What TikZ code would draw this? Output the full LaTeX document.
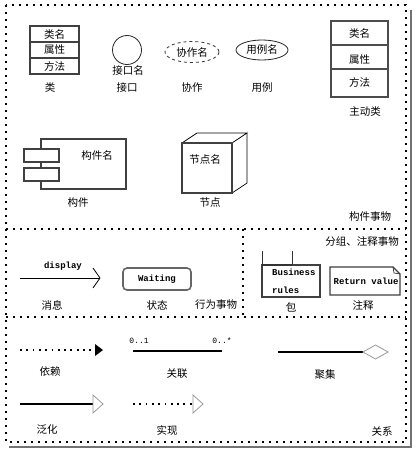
\documentclass[tikz,border=0pt]{standalone}
\usepackage{fontspec}
\setmonofont{Liberation Mono}
\newfontfamily\cjk{Noto Sans CJK SC}
\usetikzlibrary{calc}
\tikzset{
	frame/.style={line width=2pt, dash pattern=on 2pt off 5pt},
	box/.style={draw=black!75, line width=1.2pt},
	thickbox/.style={draw=black!70, line width=2pt},
	lbl/.style={font=\cjk\fontsize{10.5}{12}\selectfont, inner sep=0pt},
	mono/.style={font=\ttfamily\bfseries\fontsize{9}{10}\selectfont, inner sep=0pt},
	dotline/.style={line width=1.8pt, dash pattern=on 1.8pt off 4.5pt},
	tipgray/.style={draw=black!40, fill=white, line width=0.8pt},
}

\begin{document}
\begin{tikzpicture}[x=1pt, y=-1pt]
			%%%%% START %%%%%
			\useasboundingbox[fill=white] (0, 0) rectangle (417, 452);
			
			% frame and separators
			\draw[black!55, line width=2pt] (411, 10) -- (411, 447) -- (9, 447);
			\draw[frame] (6, 5) rectangle (406, 442);
			\draw[frame] (6, 229) -- (406, 229);
			\draw[frame] (6, 317) -- (406, 317);
			\draw[frame] (243, 229) -- (243, 317);
			
			% class
			\draw[box] (30, 26) rectangle (79, 74);
			\draw[box] (30, 42) -- (79, 42);
			\draw[box] (30, 58) -- (79, 58);
			\node[lbl] (cls-name) at (54.5, 34) {类名};
			\node[lbl] (cls-attr) at (54.5, 50) {属性};
			\node[lbl] (cls-op) at (54.5, 66) {方法};
			\node[lbl] (cls-lbl) at (50, 88) {类};
			
			% interface
			\draw[black!85, line width=0.8pt] (127, 50) circle (14.5);
			\node[lbl] (ifc-name) at (128, 71) {接口名};
			\node[lbl] (ifc-lbl) at (127, 88) {接口};
			
			% collaboration
			\draw[black!80, line width=0.8pt, dashed] (192, 52) ellipse (27 and 10.5);
			\node[lbl] (col-name) at (192, 52) {协作名};
			\node[lbl] (col-lbl) at (192, 88) {协作};
			
			% use case
			\draw[black!85, line width=0.8pt] (262, 50) ellipse (26 and 10);
			\node[lbl] (uc-name) at (262, 50) {用例名};
			\node[lbl] (uc-lbl) at (262, 88) {用例};
			
			% active class
			\draw[thickbox] (331, 21) rectangle (388, 97);
			\draw[thickbox] (331, 45) -- (388, 45);
			\draw[thickbox] (331, 69) -- (388, 69);
			\node[lbl] (act-name) at (359.5, 33) {类名};
			\node[lbl] (act-attr) at (359.5, 60) {属性};
			\node[lbl] (act-op) at (359.5, 82) {方法};
			\node[lbl] (act-lbl) at (365, 112) {主动类};
			
			% component
			\draw[box] (41, 139) rectangle (126, 189);
			\draw[box, fill=white] (24, 149) rectangle (59, 162);
			\draw[box, fill=white] (24, 168) rectangle (59, 181);
			\node[lbl] (cmp-name) at (97, 155) {构件名};
			\node[lbl] (cmp-lbl) at (78, 203) {构件};
			
			% node
			\draw[black, line width=0.7pt] (182, 143) -- (197, 133) -- (247, 133) -- (232, 143);
			\draw[black, line width=0.7pt] (247, 133) -- (247, 183) -- (232, 193);
			\draw[box] (182, 143) rectangle (232, 193);
			\node[lbl] (nd-name) at (205, 159) {节点名};
			\node[lbl] (nd-lbl) at (210, 203) {节点};
			
			\node[lbl] (struct-lbl) at (370, 217) {构件事物};
			
			% message
			\coordinate (msg-a) at (20, 278);
			\coordinate (msg-b) at (100, 278);
			\draw[black, line width=0.8pt] (msg-a) -- (msg-b);
			\draw[black, line width=0.8pt] ($(msg-b)+(-7, -10)$) -- (msg-b) -- ($(msg-b)+(-7, 10)$);
			\node[mono] (msg-text) at (63, 266) {display};
			\node[lbl] (msg-lbl) at (52, 305) {消息};
			
			% state
			\draw[draw=black!60, line width=1.6pt, rounded corners=4pt] (123, 268) rectangle (191, 290);
			\node[mono] (st-name) at (157, 279) {Waiting};
			\node[lbl] (st-lbl) at (157, 305) {状态};
			\node[lbl] (beh-lbl) at (216, 305) {行为事物};
			
			% package
			\draw[box] (262, 265) rectangle (320, 297);
			\draw[black!80, line width=0.8pt] (262, 265) -- (262, 251);
			\draw[black!80, line width=0.8pt] (292, 265) -- (292, 251);
			\draw[black!80, line width=2pt] (262, 265) -- (292, 265);
			\node[mono, anchor=west] (pkg-l1) at (272, 272) {Business};
			\node[mono, anchor=west] (pkg-l2) at (272, 290) {rules};
			\node[lbl] (pkg-lbl) at (291, 307) {包};
			
			% note
			\draw[box] (330, 267) -- (393, 267) -- (400, 274) -- (400, 295) -- (330, 295) -- cycle;
			\draw[black!80, line width=0.7pt] (393, 267) -- (394, 273) -- (400, 274);
			\node[mono] (note-text) at (366, 281) {Return value};
			\node[lbl] (note-lbl) at (363, 305) {注释};
			\node[lbl] (grp-lbl) at (362, 242) {分组、注释事物};
			
			% dependency
			\coordinate (dep-a) at (20, 350);
			\coordinate (dep-b) at (94, 350);
			\draw[dotline] (dep-a) -- (dep-b);
			\fill[black] (dep-b) ++(1, -6) -- ++(8, 6) -- ++(-8, 6) -- cycle;
			\node[lbl] (dep-lbl) at (50, 372) {依赖};
			
			% association
			\coordinate (asc-a) at (133, 351);
			\coordinate (asc-b) at (222, 351);
			\draw[black, line width=2pt] (asc-a) -- (asc-b);
			\node[mono, font=\ttfamily\fontsize{8}{10}\selectfont] (asc-m1) at (139, 341) {0..1};
			\node[mono, font=\ttfamily\fontsize{8}{10}\selectfont] (asc-m2) at (222, 341) {0..*};
			\node[lbl] (asc-lbl) at (177, 374) {关联};
			
			% aggregation
			\coordinate (agg-a) at (278, 352);
			\coordinate (agg-b) at (363, 352);
			\draw[black, line width=2pt] (agg-a) -- (agg-b);
			\draw[tipgray] (agg-b) -- ++(12.5, -7) -- ++(12.5, 7) -- ++(-12.5, 7) -- cycle;
			\node[lbl] (agg-lbl) at (325, 375) {聚集};
			
			% generalization
			\coordinate (gen-a) at (20, 404);
			\coordinate (gen-b) at (93, 404);
			\draw[black, line width=2pt] (gen-a) -- (gen-b);
			\draw[tipgray] (gen-b) ++(0, -9) -- ++(10, 9) -- ++(-10, 9) -- cycle;
			\node[lbl] (gen-lbl) at (47, 430) {泛化};
			
			% realization
			\coordinate (rea-a) at (133, 404);
			\coordinate (rea-b) at (193, 404);
			\draw[dotline] (rea-a) -- (rea-b);
			\draw[tipgray] (rea-b) ++(0, -9) -- ++(10, 9) -- ++(-10, 9) -- cycle;
			\node[lbl] (rea-lbl) at (167, 430) {实现};
			
			\node[lbl] (rel-lbl) at (382, 432) {关系};
			%%%%% END %%%%%
\end{tikzpicture}
\end{document}
